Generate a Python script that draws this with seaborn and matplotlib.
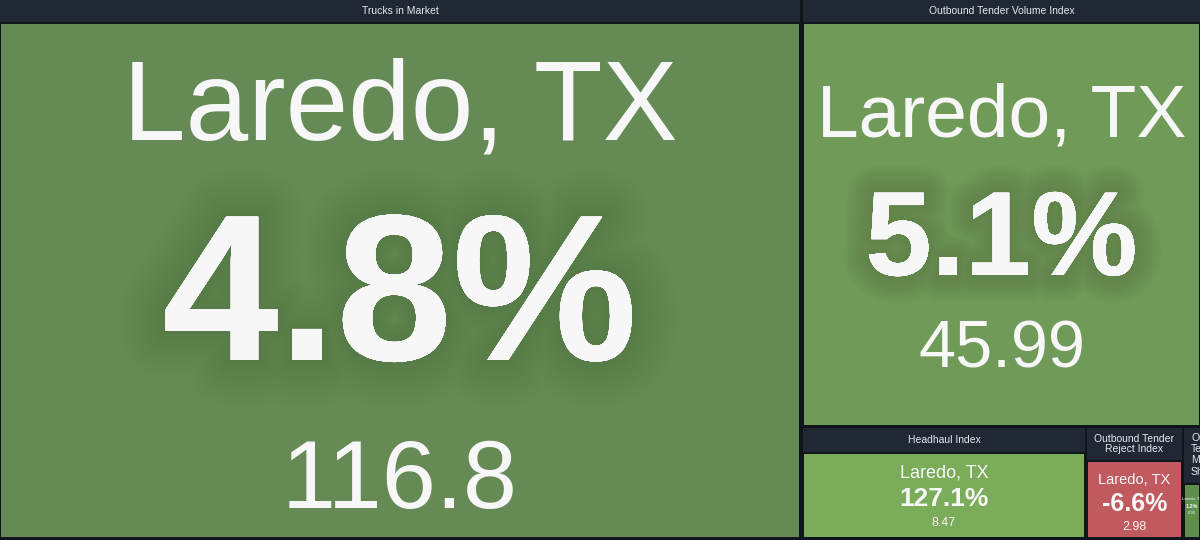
import matplotlib.pyplot as plt
import matplotlib.patheffects as pe
from matplotlib.patches import Rectangle
import seaborn as sns

# values
metrics = ["Trucks in Market", "Outbound Tender Volume Index", "Headhaul Index",
           "Outbound Tender Reject Index", "Outbound Tender Market Share"]
header_labels = ["Trucks in Market", "Outbound Tender Volume Index", "Headhaul Index",
                 "Outbound Tender\nReject Index", "Outbound\nTender\nMarket\nShare"]
markets = ["Laredo, TX", "Laredo, TX", "Laredo, TX", "Laredo, TX", "Laredo, TX"]
pct_change = [4.8, 5.1, 127.1, -6.6, 1.2]
index_values = ["116.8", "45.99", "8.47", "2.98", "0.95"]

# layout in pixels (x0, x1, header top, header bottom, tile bottom)
panels = [
    (0, 800, 0, 22, 537),
    (803, 1200, 0, 22, 425),
    (803, 1085, 428, 452, 537),
    (1087, 1182, 428, 460, 537),
    (1184, 1200, 428, 483, 537),
]
tile_colors = ["#658a55", "#6f9a58", "#7aac59", "#c15a5f", "#5f8f4a"]
# font sizes: (market, pct, value) and baselines in pixels
font_sizes = [(81, 150, 70), (54, 86, 48), (13, 19, 9), (10.5, 18, 9), (3, 4, 3)]
baselines = [(140, 360, 508), (136, 275, 368), (478, 506, 526), (484, 511, 530), (500, 508, 514)]

sns.set_theme(style="dark")
plt.rcParams["font.family"] = ["Liberation Sans", "DejaVu Sans"]

fig = plt.figure(figsize=(12, 5.4), dpi=100, facecolor="#10151c")
ax = fig.add_axes([0, 0, 1, 1])
ax.set_xlim(0, 1200)
ax.set_ylim(540, 0)
ax.axis("off")
ax.set_facecolor("#10151c")

header_bg = "#1f2833"


def soft_glow(size):
    # stacked faint strokes give a blurred dark halo behind the big numbers
    steps = 14
    effects = []
    for k in range(steps, 0, -1):
        effects.append(pe.withStroke(linewidth=size * 0.45 * k / steps,
                                     foreground="#3a5732", alpha=0.018))
    effects.append(pe.Normal())
    return effects


for i, (x0, x1, ht, hb, yb) in enumerate(panels):
    # header band
    hdr = Rectangle((x0, ht), x1 - x0, hb - ht, facecolor=header_bg, edgecolor="none")
    ax.add_patch(hdr)
    # tile body
    body = Rectangle((x0 + 1, hb + 2), x1 - x0 - 2, yb - hb - 2,
                     facecolor=tile_colors[i], edgecolor="none")
    ax.add_patch(body)

    cx = (x0 + x1) / 2
    if i == 4:
        t = ax.text(x0 + 7, ht + 5, header_labels[i], ha="left", va="top",
                    fontsize=7.5, color="#e6e9ee", linespacing=1.15)
        t.set_clip_path(hdr)
    else:
        ax.text(cx, (ht + hb) / 2, header_labels[i], ha="center", va="center",
                fontsize=7.5, color="#e6e9ee", linespacing=1.1)

    fs_m, fs_p, fs_v = font_sizes[i]
    b_m, b_p, b_v = baselines[i]
    shadow = soft_glow(fs_p) if fs_p > 40 else []
    pct = f"{pct_change[i]:.1f}%"
    texts = [
        ax.text(cx, b_m, markets[i], ha="center", va="baseline", fontsize=fs_m, color="#f7f7f7"),
        ax.text(cx, b_p, pct, ha="center", va="baseline", fontsize=fs_p,
                fontweight="bold", color="#f7f7f7", path_effects=shadow),
        ax.text(cx, b_v, index_values[i], ha="center", va="baseline", fontsize=fs_v, color="#f7f7f7"),
    ]
    if i == 4:
        for t in texts:
            t.set_clip_path(body)

fig.savefig("out.png", dpi=100, facecolor=fig.get_facecolor())
